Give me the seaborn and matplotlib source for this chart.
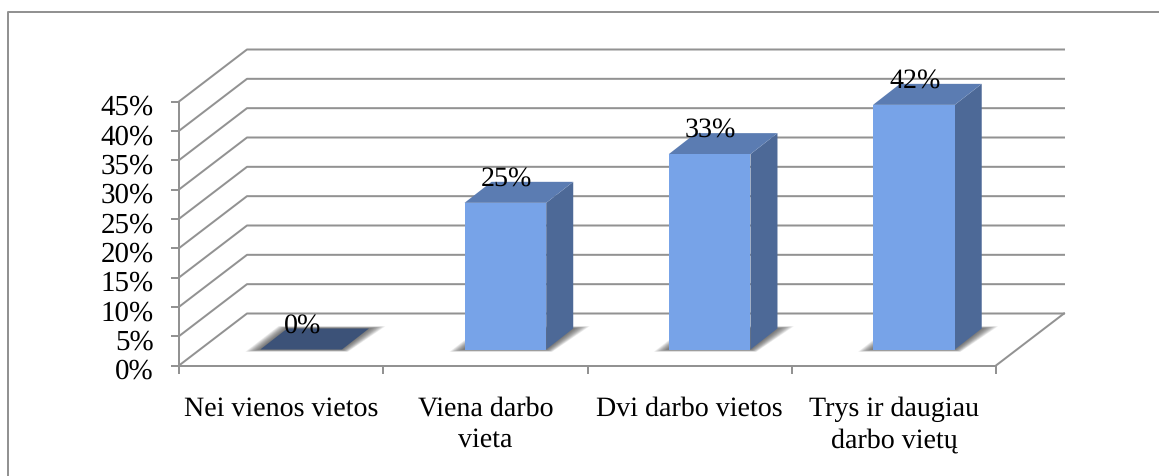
import numpy as np
import pandas as pd
import matplotlib
matplotlib.use("Agg")
import matplotlib.pyplot as plt
import seaborn as sns
from matplotlib.lines import Line2D
from matplotlib.patches import Polygon
from matplotlib.transforms import Affine2D, IdentityTransform

categories = ["Nei vienos vietos", "Viena darbo\nvieta", "Dvi darbo vietos", "Trys ir daugiau\ndarbo vietų"]
values = [0, 25, 33.3, 41.7]
value_labels = ["0%", "25%", "33%", "42%"]
y_ticks = [0, 5, 10, 15, 20, 25, 30, 35, 40, 45]

W, H = 1159, 477
GREY = "#929292"
FRONT, SIDE, TOP, FLAT = "#77a3e8", "#4d6997", "#5b7cb2", "#3c5278"
LW = 2.0 * 0.72

sns.set_style("white")
plt.rcParams["font.family"] = ["Liberation Serif", "DejaVu Serif"]
plt.rcParams["text.hinting"] = "no_hinting"
plt.rcParams["text.hinting_factor"] = 1

fig = plt.figure(figsize=(W / 100, H / 100), dpi=100, facecolor="white")
L, R, T, B = 179, 996, 102.5, 366.5
ax = fig.add_axes([L / W, 1 - B / H, (R - L) / W, (B - T) / H])
ax.patch.set_alpha(0)

df = pd.DataFrame({"cat": categories, "val": values})
sns.barplot(data=df, x="cat", y="val", ax=ax, color=FRONT, saturation=1, width=0.40, zorder=5)
ax.set_xlim(-0.5, 3.5)
ax.set_ylim(0, 45)
ax.set_xlabel("")
ax.set_ylabel("")

# perspective offsets, in pixels
WALL = (68, 52)      # front plane to back wall
BASE = (20, 16)      # front plane to the foot of the bars
DEPTH = (27, 21)     # bar depth
ident = IdentityTransform()
to_px = ax.transData.transform


def seg(xs, ys, z=1):
    ax.add_line(Line2D(xs, ys, transform=ident, color=GREY, lw=LW, clip_on=False, zorder=z,
                       solid_capstyle="projecting"))


for t in y_ticks:
    x0, y0 = to_px((-0.5, t))
    x1, _ = to_px((3.5, t))
    seg([x0, x0 + WALL[0], x1 + WALL[0]], [y0, y0 + WALL[1], y0 + WALL[1]])
x1, y0 = to_px((3.5, 0))
seg([x1, x1 + WALL[0]], [y0, y0 + WALL[1]])

# 3D faces and soft shadows built from the drawn bars
shift = Affine2D().translate(*BASE)
for bar, v in zip(ax.patches, values):
    (xa, ya), (xb, yb) = to_px((bar.get_x(), 0)), to_px((bar.get_x() + bar.get_width(), v))
    xa += BASE[0]; xb += BASE[0]; ya += BASE[1]; yb += BASE[1]
    dx, dy = DEPTH
    for k in range(15, 0, -1):
        e = k * 0.15
        ax.add_patch(Polygon([(xa - k, ya - e), (xb + k * 0.4, ya - e),
                              (xb + dx + k * 1.1, ya + dy + e), (xa + dx - k * 0.6, ya + dy + e)],
                             closed=True, transform=ident, fc="#444444", ec="none", alpha=0.075,
                             clip_on=False, zorder=2))
    ax.add_patch(Polygon([(xb, ya), (xb + dx, ya + dy), (xb + dx, yb + dy), (xb, yb)], closed=True,
                         transform=ident, fc=SIDE, ec="none", clip_on=False, zorder=4))
    ax.add_patch(Polygon([(xa, yb), (xb, yb), (xb + dx, yb + dy), (xa + dx, yb + dy)], closed=True,
                         transform=ident, fc=FLAT if v == 0 else TOP, ec="none", clip_on=False, zorder=4))
    bar.set_transform(ax.transData + shift)
    bar.set_clip_on(False)
    bar.set_edgecolor("none")

for i, (v, lab) in enumerate(zip(values, value_labels)):
    ax.annotate(lab, xy=(i, v), xycoords=ax.transData + shift,
                xytext=(1 * 0.72, 24 * 0.72), textcoords="offset points",
                ha="center", va="center", fontsize=20.5, color="black", zorder=8)

# axes
for s in ("top", "right"):
    ax.spines[s].set_visible(False)
for s in ("left", "bottom"):
    ax.spines[s].set_color(GREY)
    ax.spines[s].set_linewidth(LW)
    ax.spines[s].set_zorder(3)
ax.set_yticks(y_ticks)
ax.set_yticklabels([f"{t}%" for t in y_ticks], fontsize=21, color="black")
ax.tick_params(axis="y", length=8 * 0.72, width=LW, color=GREY, pad=17.5 * 0.72, left=True)
ax.set_xticks(range(4))
ax.set_xticklabels(categories, fontsize=20, color="black", linespacing=1.3)
ax.set_xticks(np.arange(-0.5, 4), minor=True)
ax.tick_params(axis="x", which="major", length=0, pad=30 * 0.72)
ax.tick_params(axis="x", which="minor", length=8 * 0.72, width=LW, color=GREY, bottom=True)
ax.grid(False)
for lab in ax.get_yticklabels():
    lab.set_transform(lab.get_transform() + Affine2D().translate(0, -2.5))

# outer frame, open on the right and at the bottom
fig.add_artist(Line2D([8 / W, 8 / W, 1], [0, 1 - 13 / H, 1 - 13 / H], transform=fig.transFigure,
                      color=GREY, lw=LW))

fig.savefig("out.png", dpi=100, facecolor="white")
